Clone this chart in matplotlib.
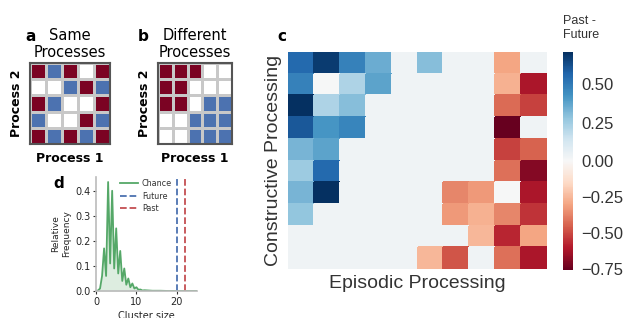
import matplotlib
matplotlib.use('Agg')
import matplotlib.pyplot as plt
import numpy as np
from matplotlib.colors import ListedColormap, TwoSlopeNorm

# panel a / b: 1 = red, -1 = blue, 0 = empty
same_grid = [[1, -1, 1, 0, 1],
             [0, 0, -1, 1, -1],
             [1, -1, 0, 0, 1],
             [-1, 0, 0, 1, -1],
             [1, -1, 1, -1, 1]]
diff_grid = [[1, 1, 1, 0, 0],
             [1, 1, 0, 0, 0],
             [1, 1, 0, -1, -1],
             [0, 0, -1, -1, -1],
             [0, 0, -1, -1, -1]]

# panel c: past - future (rows top to bottom)
bg = 0.03
heat = [[0.55, 0.68, 0.48, 0.35, bg, 0.30, bg, bg, -0.30, bg],
        [0.48, 0.0, 0.22, 0.38, bg, bg, bg, bg, -0.27, -0.62],
        [0.71, 0.22, 0.30, bg, bg, bg, bg, bg, -0.43, -0.52],
        [0.60, 0.42, 0.47, bg, bg, bg, bg, bg, -0.76, bg],
        [0.33, 0.38, bg, bg, bg, bg, bg, bg, -0.52, -0.45],
        [0.26, 0.55, bg, bg, bg, bg, bg, bg, -0.42, -0.70],
        [0.33, 0.71, bg, bg, bg, bg, -0.37, -0.33, 0.0, -0.62],
        [0.28, bg, bg, bg, bg, bg, -0.33, -0.27, -0.37, -0.55],
        [bg, bg, bg, bg, bg, bg, bg, -0.25, -0.58, -0.30],
        [bg, bg, bg, bg, bg, -0.25, -0.48, bg, -0.42, -0.62]]
cbar_ticks = [-0.75, -0.5, -0.25, 0.0, 0.25, 0.5]

# panel d: chance distribution of cluster sizes
cluster_x = [0, 0.5, 1, 1.5, 2, 2.5, 3, 3.5, 4, 4.5, 5, 5.5, 6, 6.5, 7, 7.5, 8, 8.5,
             9, 9.5, 10, 10.5, 11, 11.5, 12, 13, 14, 16, 18, 20, 22, 25]
chance = [0.0, 0.002, 0.01, 0.06, 0.17, 0.06, 0.435, 0.11, 0.40, 0.09, 0.25, 0.07,
          0.16, 0.04, 0.09, 0.025, 0.05, 0.015, 0.03, 0.01, 0.015, 0.005, 0.006,
          0.002, 0.003, 0.002, 0.001, 0.001, 0.0, 0.0, 0.0, 0.0]
future_size = 20
past_size = 22

W, H = 626, 318
fig = plt.figure(figsize=(W / 100, H / 100), dpi=100)

def box(x0, y0, x1, y1):
    return [x0 / W, 1 - y1 / H, (x1 - x0) / W, (y1 - y0) / H]

grid_cmap = ListedColormap(['#4c72b0', '#ffffff', '#7b0323'])

def small_grid(rect, grid, letter, title1, lx):
    ax = fig.add_axes(rect)
    ax.pcolormesh(np.array(grid), cmap=grid_cmap, vmin=-1, vmax=1,
                  edgecolors='#c8c8c8', linewidth=1)
    ax.set_xlim(0, 5)
    ax.set_ylim(5, 0)
    ax.set_xticks([])
    ax.set_yticks([])
    for s in ax.spines.values():
        s.set_color('#555555')
        s.set_linewidth(1.5)
    ax.set_xlabel('Process 1', fontsize=9, fontweight='bold', family='DejaVu Sans', labelpad=6)
    ax.set_ylabel('Process 2', fontsize=9, fontweight='bold', family='DejaVu Sans', labelpad=5)
    # two-line title, one text per line
    ax.text(0.5, 1.08, 'Processes', transform=ax.transAxes, fontsize=10.5,
            family='DejaVu Sans', ha='center', va='baseline')
    ax.text(0.5, 1.28, title1, transform=ax.transAxes, fontsize=10.5,
            family='DejaVu Sans', ha='center', va='baseline')
    fig.text(lx / W, 1 - 41 / H, letter, fontsize=11, fontweight='bold',
             family='DejaVu Sans', va='baseline')
    return ax

small_grid(box(30, 63, 110, 144), same_grid, 'a', 'Same', 25)
small_grid(box(158, 63, 232, 144), diff_grid, 'b', 'Different', 138)

# panel c heatmap
axc = fig.add_axes(box(288, 52, 547, 269))
norm = TwoSlopeNorm(vmin=-0.76, vcenter=0.0, vmax=0.71)
mesh = axc.pcolormesh(np.array(heat), cmap='RdBu', norm=norm, edgecolors='face', linewidth=0.2)
axc.set_xlim(0, 10)
axc.set_ylim(10, 0)
axc.set_xticks([])
axc.set_yticks([])
for s in axc.spines.values():
    s.set_visible(False)
axc.set_xlabel('Episodic Processing', fontsize=14, color='#333333', family='Liberation Sans', labelpad=4)
axc.set_ylabel('Constructive Processing', fontsize=14, color='#333333', family='Liberation Sans', labelpad=4)
fig.text(277 / W, 1 - 41 / H, 'c', fontsize=11, fontweight='bold',
         family='DejaVu Sans', va='baseline')

cax = fig.add_axes(box(563, 52, 573, 270))
cb = fig.colorbar(mesh, cax=cax, ticks=cbar_ticks)
cb.outline.set_visible(False)
cb.ax.tick_params(length=0, labelsize=12, labelcolor='#333333', pad=6)
for t in cb.ax.get_yticklabels():
    t.set_family('Liberation Sans')
fig.text(563 / W, 1 - 38 / H, 'Past -\nFuture', fontsize=9,
         color='#333333', family='Liberation Sans', va='baseline')

# panel d
axd = fig.add_axes(box(96, 177, 197, 291))
axd.plot(cluster_x, chance, color='#55a868', lw=1.3, label='Chance')
axd.fill_between(cluster_x, chance, color='#55a868', alpha=0.2, lw=0)
axd.axvline(future_size, color='#4c72b0', ls='--', lw=1.3, label='Future')
axd.axvline(past_size, color='#c44e52', ls='--', lw=1.3, label='Past')
axd.set_xlim(0, 25)
axd.set_ylim(0, 0.455)
axd.set_xticks([0, 10, 20])
axd.set_yticks([0.0, 0.1, 0.2, 0.3, 0.4])
axd.set_yticklabels(['0.0', '0.1', '0.2', '0.3', '0.4'])
axd.spines['top'].set_visible(False)
axd.spines['right'].set_visible(False)
for s in ['left', 'bottom']:
    axd.spines[s].set_color('#bbbbbb')
    axd.spines[s].set_linewidth(1.2)
axd.tick_params(labelsize=7, length=2, color='#333333', labelcolor='#262626', pad=2)
axd.set_xlabel('Cluster size', fontsize=7, color='#262626', labelpad=3)
axd.set_ylabel('Relative\nFrequency', fontsize=6.5, color='#262626', labelpad=3)
leg = axd.legend(loc='upper left', fontsize=5.8, frameon=False, handlelength=2.2,
                 borderaxespad=0, borderpad=0, handletextpad=0.5,
                 bbox_to_anchor=(0.24, 0.98), labelspacing=0.4)
for t in leg.get_texts():
    t.set_color('#333333')
fig.text(53 / W, 1 - 188 / H, 'd', fontsize=11, fontweight='bold',
         family='DejaVu Sans', va='baseline')

fig.savefig('out.png', dpi=100)
